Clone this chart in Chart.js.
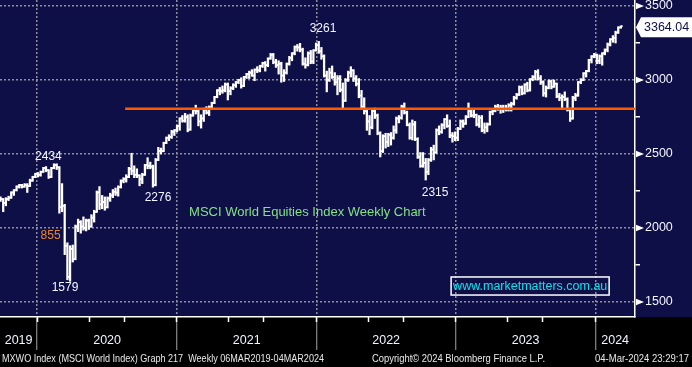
<!DOCTYPE html>
<html>
<head>
<meta charset="utf-8">
<script src="https://cdn.jsdelivr.net/npm/chart.js@4.4.1/dist/chart.umd.min.js"></script>
<style>
html,body{margin:0;padding:0;background:#000;}
#wrap{width:692px;height:367px;position:relative;}
canvas{display:block;}
</style>
</head>
<body>
<div id="wrap"><canvas id="c" width="692" height="367"></canvas></div>
<script>
// ---------------- DATA ----------------
const startDate = '2019-09-27';           // first visible weekly bar (Friday)
const yearLabels = ['2019','2020','2021','2022','2023','2024'];
const priceTicks = [1500, 2000, 2500, 3000, 3500];
const minorPriceTicks = [1750, 2250, 2750, 3250];
const supportLevel = 2805;
const lastValue = 3364.04;

const open = [
2200,2195,2170,2195,2205,2240,2255,2280,2290,2280,
2290,2285,2320,2345,2365,2360,2380,2405,2390,2345,
2405,2425,2410,2140,2150,1880,1670,1860,1790,2010,
2040,2010,2000,2050,2010,2070,2110,2240,2160,2175,
2140,2200,2220,2245,2240,2275,2320,2330,2345,2400,
2385,2360,2355,2330,2360,2425,2420,2415,2290,2460,
2520,2520,2575,2610,2615,2650,2660,2690,2740,2725,
2750,2665,2760,2795,2790,2720,2740,2800,2780,2815,
2845,2885,2930,2925,2930,2970,2925,2945,2965,2985,
3000,2960,3020,3040,3050,3030,3070,3065,3095,3115,
3100,3145,3170,3120,3100,3110,3030,3050,3110,3150,
3180,3225,3220,3205,3110,3100,3180,3125,3200,3235,
3195,3160,3030,3000,3050,3020,2985,3010,2935,2860,
3000,3050,3065,3010,2975,2895,2820,2790,2720,2680,
2790,2760,2640,2520,2620,2580,2630,2610,2660,2740,
2745,2820,2780,2695,2610,2700,2600,2480,2420,2440,
2380,2460,2530,2510,2660,2650,2695,2735,2690,2625,
2620,2610,2670,2720,2705,2750,2790,2760,2765,2700,
2745,2660,2680,2700,2785,2790,2820,2810,2815,2805,
2800,2830,2840,2880,2900,2950,2910,2970,2930,3005,
3020,3055,3010,2985,2910,2945,2990,2955,2975,2890,
2880,2885,2870,2800,2740,2880,2895,2985,3000,3045,
3060,3135,3160,3170,3130,3160,3180,3205,3240,3275,
3285,3320,3355];
const high = [
2210,2200,2205,2215,2245,2260,2285,2295,2295,2300,
2300,2330,2350,2370,2375,2385,2410,2415,2395,2410,
2434,2434,2415,2300,2160,1900,1880,1885,2020,2060,
2050,2075,2060,2060,2090,2120,2250,2280,2220,2210,
2210,2235,2260,2270,2285,2325,2340,2360,2410,2505,
2420,2400,2360,2370,2430,2475,2445,2425,2470,2545,
2540,2580,2615,2630,2660,2665,2695,2745,2760,2775,
2765,2770,2800,2830,2805,2765,2810,2820,2825,2850,
2890,2935,2950,2960,2980,2980,2955,2975,2990,3005,
3015,3025,3045,3060,3070,3075,3090,3100,3120,3125,
3150,3180,3180,3140,3130,3120,3070,3115,3160,3185,
3230,3240,3248,3215,3150,3190,3200,3205,3250,3261,
3220,3170,3060,3080,3095,3050,3030,3030,2980,3010,
3060,3090,3070,3030,3010,2930,2880,2800,2760,2800,
2810,2770,2650,2630,2640,2640,2645,2690,2750,2760,
2830,2845,2790,2710,2730,2720,2610,2510,2510,2470,
2470,2545,2560,2670,2690,2705,2740,2765,2730,2645,
2650,2680,2730,2730,2760,2845,2800,2800,2770,2760,
2760,2710,2710,2790,2800,2830,2835,2830,2830,2830,
2840,2850,2890,2910,2960,2960,2975,2985,3010,3030,
3065,3070,3030,2995,2960,3000,3000,3000,2980,2910,
2900,2920,2880,2810,2890,2910,2990,3010,3050,3065,
3140,3165,3180,3175,3170,3185,3210,3250,3280,3300,
3330,3360,3366];
const low = [
2180,2110,2150,2185,2200,2220,2250,2270,2270,2275,
2240,2280,2315,2340,2345,2350,2375,2380,2335,2340,
2400,2395,2100,2110,1820,1650,1640,1770,1785,1975,
1965,1985,1980,1990,2005,2040,2105,2125,2130,2120,
2135,2180,2205,2220,2215,2270,2305,2310,2340,2360,
2340,2340,2285,2300,2355,2400,2400,2276,2285,2455,
2500,2515,2570,2590,2605,2625,2650,2660,2715,2715,
2650,2660,2755,2770,2690,2675,2720,2770,2760,2810,
2840,2880,2900,2910,2920,2865,2900,2935,2950,2975,
2945,2955,3010,3010,3025,2995,3050,3055,3085,3060,
3090,3140,3110,3085,3040,2985,2990,3040,3100,3130,
3170,3195,3190,3100,3080,3095,3110,3110,3195,3180,
3140,3020,2920,2990,3010,2965,2900,2920,2800,2855,
2990,3020,2990,2960,2880,2810,2770,2660,2630,2670,
2740,2630,2480,2510,2540,2550,2560,2600,2640,2710,
2735,2770,2690,2600,2595,2590,2470,2410,2410,2324,
2360,2450,2460,2505,2630,2640,2670,2680,2610,2580,
2590,2590,2665,2680,2700,2745,2750,2745,2690,2680,
2650,2640,2650,2695,2765,2785,2795,2775,2780,2790,
2790,2790,2830,2870,2895,2900,2905,2920,2925,2995,
3000,3000,2970,2890,2885,2940,2940,2950,2880,2860,
2800,2860,2790,2720,2735,2860,2890,2975,2995,3020,
3055,3115,3150,3110,3110,3100,3170,3190,3230,3255,
3250,3315,3350];
const close = [
2195,2170,2195,2205,2240,2255,2280,2290,2280,2290,
2285,2320,2345,2365,2360,2380,2405,2390,2345,2405,
2425,2410,2140,2150,1880,1670,1860,1790,2010,2040,
2010,2000,2050,2010,2070,2110,2240,2160,2175,2140,
2200,2220,2245,2240,2275,2320,2330,2345,2400,2385,
2360,2355,2330,2360,2425,2420,2415,2290,2460,2520,
2520,2575,2610,2615,2650,2660,2690,2740,2725,2750,
2665,2760,2795,2790,2720,2740,2800,2780,2815,2845,
2885,2930,2925,2930,2970,2925,2945,2965,2985,3000,
2960,3020,3040,3050,3030,3070,3065,3095,3115,3100,
3145,3170,3120,3100,3110,3030,3050,3110,3150,3180,
3225,3220,3205,3110,3100,3180,3125,3200,3235,3195,
3160,3030,3000,3050,3020,2985,3010,2935,2860,3000,
3050,3065,3010,2975,2895,2820,2790,2720,2680,2790,
2760,2640,2520,2620,2580,2630,2610,2660,2740,2745,
2820,2780,2695,2610,2700,2600,2480,2420,2440,2380,
2460,2530,2510,2660,2650,2695,2735,2690,2625,2620,
2610,2670,2720,2705,2750,2790,2760,2765,2700,2745,
2660,2680,2700,2785,2790,2820,2810,2815,2805,2800,
2830,2840,2880,2900,2950,2910,2970,2930,3005,3020,
3055,3010,2985,2910,2945,2990,2955,2975,2890,2880,
2885,2870,2800,2740,2880,2895,2985,3000,3045,3060,
3135,3160,3170,3130,3160,3180,3205,3240,3275,3285,
3320,3355,3364.04];

// ---------------- LAYOUT / STYLE ----------------
const NAVY = '#0f0f48';
const GRID = '#8e8e9a';
const TEXT = '#f2f5ff';
const FONT = '"Liberation Sans", Arial, sans-serif';
const X_MIN = -0.2, X_MAX = 237.27;     // week units
const Y_MIN = 1398.6, Y_MAX = 3540.6;

const callouts = [
  {text:'3261', week:120.6, value:3345},
  {text:'2434', week:17.9,  value:2480},
  {text:'855',  week:18.7,  value:1946, color:'#e8862c'},
  {text:'1579', week:24.1,  value:1595},
  {text:'2276', week:58.9,  value:2203},
  {text:'2315', week:162.5, value:2236}
];
const title = {text:'MSCI World Equities Index Weekly Chart', week:70.5, value:2108};
const webBox = {text:'www.marketmatters.com.au', week0:168.5, week1:227.6, vTop:1669, vBottom:1547};
const supportFromWeek = 46.6;
const footer = [
  {text:'MXWO Index (MSCI World Index) Graph 217  Weekly 06MAR2019-04MAR2024', x:2, w:322},
  {text:'Copyright\u00A9 2024 Bloomberg Finance L.P.', x:372, w:173},
  {text:'04-Mar-2024 23:29:17', x:595, w:94}
];

// ---------------- DERIVED (calendar positions) ----------------
const WEEK = 7*86400000;
const t0 = Date.parse(startDate + 'T00:00:00Z');
const weekOf = iso => (Date.parse(iso + 'T00:00:00Z') - t0) / WEEK;
const weeks = close.map((_, i) => i);
const yearStarts = yearLabels.slice(1).map(y => weekOf(y + '-01-01'));
const quarterStarts = [];
yearLabels.forEach(y => ['04','07','10'].forEach(m => {
  const w = weekOf(y + '-' + m + '-01');
  if (w > X_MIN && w < X_MAX) quarterStarts.push(w);
}));
const bounds = [X_MIN, ...yearStarts, X_MAX];
const yearMids = yearLabels.map((_, k) => (bounds[k] + bounds[k+1]) / 2);

// ---------------- PLUGIN ----------------
const decor = {
  id: 'decor',
  beforeDraw(chart) {
    const {ctx, chartArea} = chart;
    ctx.save();
    ctx.fillStyle = '#000';
    ctx.fillRect(0, 0, chart.width, chart.height);
    ctx.fillStyle = NAVY;
    ctx.fillRect(0, 0, chart.width, chartArea.bottom);
    ctx.restore();
  },
  afterDraw(chart) {
    const {ctx, chartArea} = chart;
    const x = chart.scales.x, y = chart.scales.y;
    ctx.save();
    ctx.textBaseline = 'middle';
    ctx.textAlign = 'center';
    ctx.font = '12px ' + FONT;
    callouts.forEach(c => {
      ctx.fillStyle = c.color || TEXT;
      ctx.fillText(c.text, x.getPixelForValue(c.week), y.getPixelForValue(c.value));
    });
    ctx.textAlign = 'left';
    ctx.font = '13px ' + FONT;
    ctx.fillStyle = '#84e284';
    ctx.fillText(title.text, x.getPixelForValue(title.week), y.getPixelForValue(title.value));

    // website box
    const bx0 = x.getPixelForValue(webBox.week0), bx1 = x.getPixelForValue(webBox.week1);
    const by0 = y.getPixelForValue(webBox.vTop), by1 = y.getPixelForValue(webBox.vBottom);
    ctx.strokeStyle = '#ffffff'; ctx.lineWidth = 1.5;
    ctx.strokeRect(bx0, by0, bx1 - bx0, by1 - by0);
    ctx.fillStyle = '#12e0ea';
    ctx.font = '12.5px ' + FONT;
    ctx.fillText(webBox.text, bx0 + 2, (by0 + by1) / 2 + 0.5);

    // major tick triangles
    const ax = chartArea.right;
    ctx.fillStyle = '#ffffff';
    priceTicks.forEach(v => {
      const py = y.getPixelForValue(v);
      ctx.beginPath();
      ctx.moveTo(ax + 1, py - 3.2); ctx.lineTo(ax + 9, py); ctx.lineTo(ax + 1, py + 3.2);
      ctx.closePath(); ctx.fill();
    });

    // last value tag
    const vy = y.getPixelForValue(lastValue) + 1;
    ctx.beginPath();
    ctx.moveTo(ax + 1, vy); ctx.lineTo(ax + 6, vy - 10); ctx.lineTo(chart.width, vy - 10);
    ctx.lineTo(chart.width, vy + 10); ctx.lineTo(ax + 6, vy + 10); ctx.closePath();
    ctx.fill();
    ctx.fillStyle = NAVY;
    ctx.font = '12.5px ' + FONT;
    ctx.fillText(lastValue.toFixed(2), ax + 9, vy + 0.5);

    // footer
    ctx.font = '11px ' + FONT;
    ctx.fillStyle = '#e8e8e8';
    ctx.textBaseline = 'alphabetic';
    footer.forEach(f => ctx.fillText(f.text, f.x, 362, f.w));
    ctx.restore();
  }
};

// ---------------- CHART ----------------
const zeroH = s => { s.height = 0; s.paddingLeft = 0; s.paddingRight = 0; };
new Chart(document.getElementById('c'), {
  type: 'bar',
  data: {
    datasets: [
      {
        type: 'line', label: 'support', order: 0,
        data: [{x: supportFromWeek, y: supportLevel}, {x: X_MAX, y: supportLevel}],
        borderColor: '#ff5a00', borderWidth: 2.5, pointRadius: 0, fill: false
      },
      {
        type: 'line', label: 'open', order: 1, showLine: false,
        data: weeks.map(i => ({x: i, y: open[i]})),
        pointStyle: 'dash', pointRadius: 1.8, pointRotation: 180,
        pointBorderWidth: 1.6, pointBorderColor: '#ffffff', pointBackgroundColor: '#ffffff'
      },
      {
        type: 'line', label: 'close', order: 1, showLine: false,
        data: weeks.map(i => ({x: i, y: close[i]})),
        pointStyle: 'dash', pointRadius: 1.8, pointRotation: 0,
        pointBorderWidth: 1.6, pointBorderColor: '#ffffff', pointBackgroundColor: '#ffffff'
      },
      {
        type: 'bar', label: 'range', order: 2,
        data: weeks.map(i => ({x: i, y: [low[i], high[i]]})),
        backgroundColor: '#ffffff', borderWidth: 0, barThickness: 1.6
      }
    ]
  },
  options: {
    responsive: false, devicePixelRatio: 1, animation: false, events: [],
    layout: {padding: 0, autoPadding: false},
    plugins: {legend: {display: false}, tooltip: {enabled: false}},
    scales: {
      x: {
        type: 'linear', position: 'bottom', weight: 0, min: X_MIN, max: X_MAX, offset: false,
        afterBuildTicks: s => { s.ticks = yearStarts.map(v => ({value: v})); },
        afterFit: zeroH,
        ticks: {display: false},
        grid: {offset: false, color: GRID, lineWidth: 1.5, drawTicks: true, tickLength: 33,
               tickColor: '#a4a4a4', tickWidth: 1, tickBorderDash: []},
        border: {display: true, color: '#ffffff', width: 1.5, dash: [2, 2]}
      },
      xq: {
        type: 'linear', position: 'bottom', weight: 1, min: X_MIN, max: X_MAX, offset: false,
        afterBuildTicks: s => { s.ticks = quarterStarts.map(v => ({value: v})); },
        afterFit: zeroH,
        ticks: {display: false},
        grid: {drawOnChartArea: false, drawTicks: true, tickLength: 5, tickColor: '#ffffff', tickWidth: 1.5, color: 'rgba(0,0,0,0)'},
        border: {display: false}
      },
      xl: {
        type: 'linear', position: 'bottom', weight: 2, min: X_MIN, max: X_MAX, offset: false,
        afterBuildTicks: s => { s.ticks = yearMids.map(v => ({value: v})); },
        afterFit: s => { s.height = 50; s.paddingLeft = 0; s.paddingRight = 0; },
        ticks: {display: true, autoSkip: false, maxRotation: 0, padding: 0, color: TEXT,
                font: {family: FONT, size: 12.5},
                callback: (v, idx) => yearLabels[idx]},
        grid: {display: true, drawOnChartArea: false, drawTicks: true, tickLength: 16,
               tickColor: 'rgba(0,0,0,0)', color: 'rgba(0,0,0,0)'},
        border: {display: false}
      },
      y: {
        type: 'linear', position: 'right', min: Y_MIN, max: Y_MAX,
        afterBuildTicks: s => { s.ticks = [...priceTicks, ...minorPriceTicks].sort((a,b)=>a-b).map(v => ({value: v})); },
        afterFit: s => { s.width = 57; s.paddingTop = 0; s.paddingBottom = 0; },
        ticks: {autoSkip: false, padding: 5, color: TEXT, font: {family: FONT, size: 12.5},
                callback: v => priceTicks.includes(v) ? String(v) : ''},
        grid: {
          color: c => (c.tick && priceTicks.includes(c.tick.value)) ? GRID : 'rgba(0,0,0,0)',
          lineWidth: 1.5, drawTicks: true, tickLength: 5,
          tickColor: c => (c.tick && minorPriceTicks.includes(c.tick.value)) ? '#ffffff' : 'rgba(0,0,0,0)',
          tickWidth: 1.5, tickBorderDash: []
        },
        border: {display: true, color: '#ffffff', width: 1.5, dash: [2, 2]}
      }
    }
  },
  plugins: [decor]
});
</script>
</body>
</html>
